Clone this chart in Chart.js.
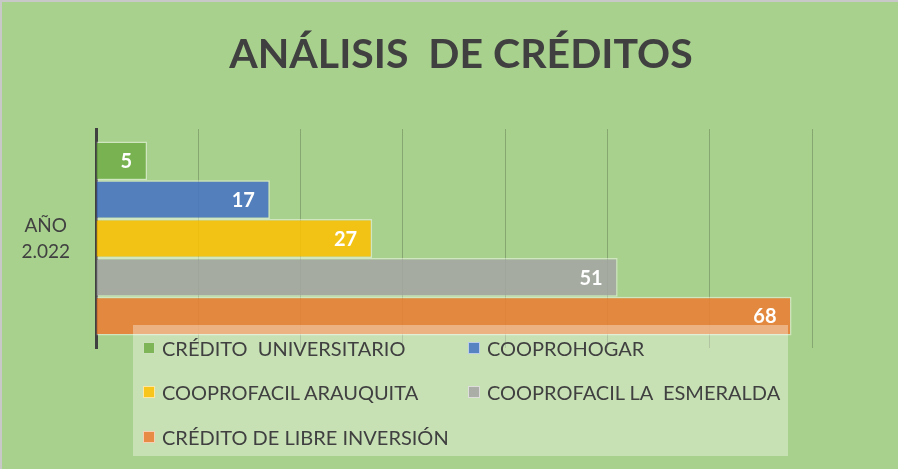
<!DOCTYPE html>
<html>
<head>
<meta charset="utf-8">
<script src="https://cdn.jsdelivr.net/npm/chart.js@4"></script>
<style>
  body { margin: 0; background: #fff; }
  #wrap {
    position: relative; width: 898px; height: 469px; box-sizing: border-box;
    background: #a9d18e; border-top: 2px solid #c8c8c8; border-left: 2px solid #c8c8c8;
  }
  #title {
    position: absolute; left: 0; top: 26px; width: 918px; text-align: center;
    font-family: Lato, sans-serif; font-weight: bold; font-size: 41px; color: #404040; white-space: pre;
  }
  #legend {
    position: absolute; left: 131px; top: 323px; width: 655px; height: 131px;
    background: rgba(255,255,255,0.35); font-family: Lato, sans-serif; font-size: 20px; color: #404040;
  }
  .item { position: absolute; display: flex; align-items: center; white-space: pre; }
  .sw { width: 10px; height: 10px; margin-right: 7px; border: 1px solid rgba(255,255,255,0.6); }
</style>
</head>
<body>
<div id="wrap">
  <canvas id="chart" width="896" height="467"></canvas>
  <div id="title"></div>
  <div id="legend"></div>
</div>
<script>
// ===== Data =====
const chartTitle = 'ANÁLISIS  DE CRÉDITOS';
const categories = [['AÑO', '2.022']];
const seriesNames  = ['CRÉDITO  UNIVERSITARIO', 'COOPROHOGAR', 'COOPROFACIL ARAUQUITA', 'COOPROFACIL LA  ESMERALDA', 'CRÉDITO DE LIBRE INVERSIÓN'];
const seriesValues = [5, 17, 27, 51, 68];
const seriesColors = ['rgba(112,173,71,0.85)', 'rgba(68,114,196,0.85)', 'rgba(255,192,0,0.85)', 'rgba(165,165,165,0.85)', 'rgba(237,125,49,0.85)'];

// ===== Value labels (inside end, white bold) =====
const valueLabels = {
  id: 'valueLabels',
  afterDatasetsDraw(chart) {
    const ctx = chart.ctx;
    ctx.save();
    ctx.font = 'bold 20px Lato, sans-serif';
    ctx.fillStyle = '#fff';
    ctx.textAlign = 'right';
    ctx.textBaseline = 'middle';
    chart.data.datasets.forEach((ds, i) => {
      chart.getDatasetMeta(i).data.forEach((el, j) => {
        ctx.fillText(ds.data[j], el.x - 15, el.y + 1);
      });
    });
    ctx.restore();
  }
};

new Chart(document.getElementById('chart'), {
  type: 'bar',
  data: {
    labels: categories,
    datasets: seriesNames.map((name, i) => ({
      label: name,
      data: [seriesValues[i]],
      backgroundColor: seriesColors[i],
      borderColor: 'rgba(255,255,255,0.45)',
      borderWidth: 1.5,
      categoryPercentage: 0.885,
      barPercentage: 1,
    })),
  },
  options: {
    indexAxis: 'y',
    responsive: false,
    animation: false,
    layout: { padding: { left: 0, top: 127, right: 86, bottom: 121 } },
    plugins: {
      legend: { display: false },
      tooltip: { enabled: false },
      title: { display: false },
    },
    scales: {
      x: {
        min: 0, max: 70,
        ticks: { display: false, stepSize: 10 },
        grid: { color: 'rgba(0,0,0,0.2)', lineWidth: 1, drawTicks: false },
        border: { display: false },
      },
      y: {
        afterFit: s => { s.width = 94; },
        ticks: { color: '#404040', padding: 26, crossAlign: 'center',
                 font: { family: 'Lato, sans-serif', size: 19, lineHeight: 1.37 } },
        grid: { display: false, drawTicks: false },
        border: { color: '#404040', width: 3 },
      },
    },
  },
  plugins: [valueLabels],
});

document.getElementById('title').textContent = chartTitle;

// ===== Legend overlay =====
const legendPos = [[10, 24], [335, 24], [10, 68], [335, 68], [10, 113]];
document.getElementById('legend').innerHTML = seriesNames.map((name, i) =>
  `<div class="item" style="left:${legendPos[i][0]}px;top:${legendPos[i][1] - 13}px">` +
  `<span class="sw" style="background:${seriesColors[i]}"></span>${name}</div>`
).join('');
</script>
</body>
</html>
